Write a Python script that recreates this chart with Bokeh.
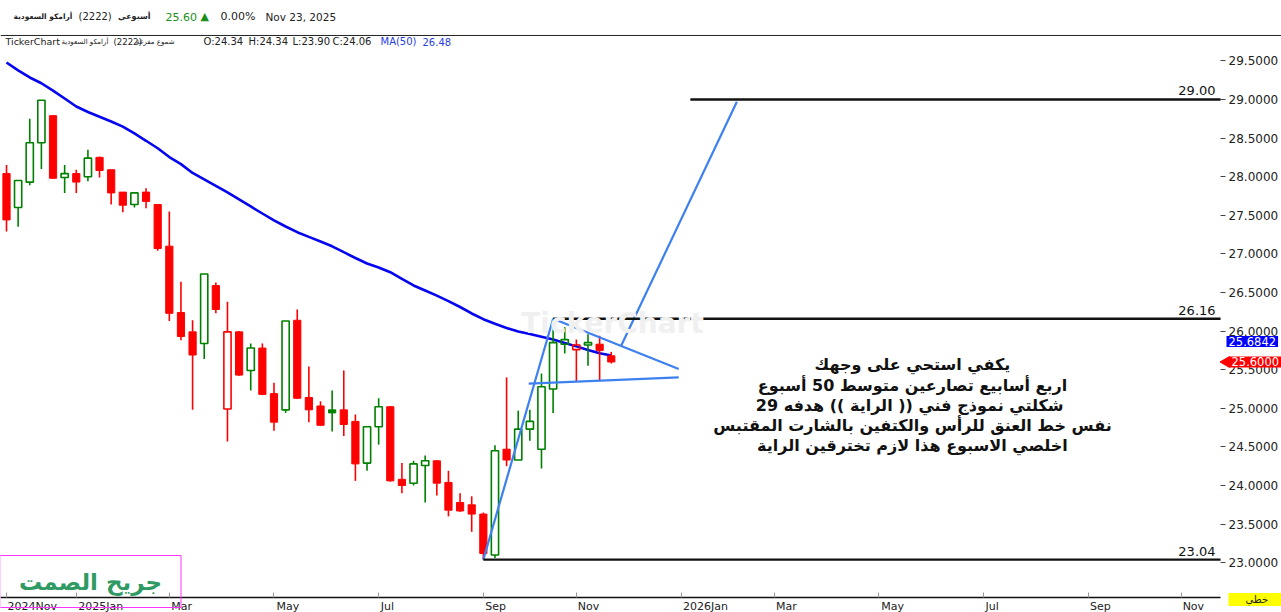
import numpy as np
import pandas as pd
from bokeh.plotting import figure
from bokeh.models import (ColumnDataSource, FixedTicker, Label, LinearAxis,
                          PrintfTickFormatter, Span)
from bokeh.core.properties import value
from bokeh.embed import file_html
from bokeh.resources import INLINE

# ---------------- data ----------------
WEEK0 = "2024-11-24"  # first weekly bar shown
OPEN = [28.04, 27.60, 27.93, 28.44, 28.79, 27.99, 28.04, 28.00, 28.25, 28.09,
        27.80, 27.64, 27.80, 27.64, 27.10, 26.24, 25.99, 25.84, 26.59, 24.99,
        25.99, 25.49, 25.78, 25.19, 24.98, 26.14, 25.14, 25.03, 24.98, 24.98,
        24.83, 24.29, 24.76, 25.02, 24.08, 24.03, 24.26, 24.32, 24.04, 23.78,
        23.75, 23.63, 23.10, 24.47, 24.33, 24.73, 24.47, 25.25, 25.83, 25.76,
        25.82, 25.83, 25.68]
HIGH = [28.15, 27.95, 28.75, 28.99, 28.80, 28.15, 28.09, 28.35, 28.26, 28.09,
        27.80, 27.79, 27.85, 27.64, 27.55, 26.64, 26.14, 26.74, 26.63, 26.38,
        26.00, 25.84, 25.84, 25.33, 26.13, 26.28, 25.54, 25.09, 25.23, 25.49,
        24.92, 24.76, 25.13, 25.03, 24.29, 24.32, 24.39, 24.33, 24.19, 23.90,
        23.86, 23.65, 24.52, 25.40, 24.97, 24.98, 25.45, 26.16, 26.05, 25.89,
        25.96, 25.94, 25.73]
LOW = [27.29, 27.35, 27.89, 28.10, 27.97, 27.79, 27.79, 27.94, 27.99, 27.64,
       27.54, 27.60, 27.59, 27.04, 26.13, 25.88, 24.98, 25.64, 26.23, 24.57,
       25.42, 25.23, 25.17, 24.71, 24.94, 25.12, 24.82, 24.77, 24.70, 24.64,
       24.06, 24.19, 24.53, 24.05, 23.90, 24.00, 23.78, 23.87, 23.60, 23.66,
       23.40, 23.04, 23.06, 24.25, 24.33, 24.58, 24.22, 24.94, 25.71, 25.35,
       25.55, 25.35, 25.58]
CLOSE = [27.44, 27.95, 28.44, 28.99, 27.98, 28.04, 27.93, 28.24, 28.08, 27.79,
         27.63, 27.79, 27.68, 27.07, 26.23, 25.93, 25.69, 26.74, 26.28, 25.99,
         25.43, 25.78, 25.18, 24.82, 26.13, 25.13, 24.98, 24.78, 24.94, 24.79,
         24.28, 24.76, 25.02, 24.06, 24.00, 24.28, 24.32, 24.03, 23.68, 23.67,
         23.63, 23.12, 24.45, 24.33, 24.73, 24.83, 25.28, 25.85, 25.89, 25.82,
         25.85, 25.75, 25.60]
MA50 = [29.479, 29.376, 29.285, 29.210, 29.114, 29.013, 28.909, 28.838, 28.776, 28.715,
        28.648, 28.560, 28.465, 28.368, 28.254, 28.163, 28.048, 27.964, 27.881, 27.797,
        27.705, 27.614, 27.523, 27.433, 27.355, 27.281, 27.220, 27.161, 27.098, 27.022,
        26.947, 26.876, 26.824, 26.763, 26.677, 26.591, 26.526, 26.459, 26.389, 26.312,
        26.228, 26.154, 26.095, 26.040, 25.995, 25.961, 25.927, 25.891, 25.846, 25.802,
        25.756, 25.712, 25.6842]

TICK_DATES = ["2024-11-24", "2025-01-05", "2025-03-02", "2025-05-04", "2025-07-06",
              "2025-09-07", "2025-11-02", "2026-01-04", "2026-03-01", "2026-05-03",
              "2026-07-05", "2026-09-06", "2026-11-01"]
TICK_LABELS = ["2024Nov", "2025Jan", "Mar", "May", "Jul", "Sep", "Nov",
               "2026Jan", "Mar", "May", "Jul", "Sep", "Nov"]
Y_TICKS = [23.0, 23.5, 24.0, 24.5, 25.0, 25.5, 26.0, 26.5, 27.0, 27.5, 28.0, 28.5, 29.0, 29.5]

# user drawings (week index, price)
FLAG_POLE_X = [41, 47];        FLAG_POLE_Y = [23.04, 26.16]
FLAG_TOP_X = [47, 57.8];       FLAG_TOP_Y = [26.16, 25.51]
FLAG_BOTTOM_X = [44.9, 57.8];  FLAG_BOTTOM_Y = [25.32, 25.40]
TARGET_X = [52.85, 62.8];      TARGET_Y = [25.81, 28.97]
LEVEL_START = [58.8, 47, 41]
LEVEL_VALUE = [29.00, 26.16, 23.04]
LEVEL_TEXT = ["29.00", "26.16", "23.04"]

NOTE_LINES = ["يكفي استحي على وجهك",
              "اربع أسابيع تصارعين متوسط 50 أسبوع",
              "شكلتي نموذج فني (( الراية  )) هدفه 29",
              "نفس خط العنق للرأس والكتفين بالشارت المقتبس",
              "اخلصي الاسبوع هذا لازم تخترقين الراية"]

HOVER_OHLC = [24.34, 24.34, 23.90, 24.06]
HOVER_MA = 26.48
CHANGE_PCT = 0.00

# ---------------- figure (frame = whole canvas, axes pinned inside) ----------------
W, H = 1281, 612
X_START, X_END = -0.516, 109.63      # full canvas width in week units
Y_BOTTOM, Y_TOP = 22.355, 30.282     # full canvas height in price units
AXIS_X = 104.39                      # where the price axis sits
AXIS_Y = 22.549                      # where the time axis sits
HEADER_RULE = 29.829

p = figure(width=W, height=H, x_range=(X_START, X_END), y_range=(Y_BOTTOM, Y_TOP),
           x_axis_location=None, y_axis_location=None,
           toolbar_location=None, output_backend="svg",
           min_border=0, background_fill_color="white", border_fill_color="white")
p.outline_line_color = None
p.grid.visible = False

FONT = "DejaVu Sans"
GREEN = "#008000"
RED = "#ff0000"

# candles
o = np.array(OPEN); h = np.array(HIGH); l = np.array(LOW); c = np.array(CLOSE)
idx = np.arange(len(c))
prev = np.concatenate([[o[0]], c[:-1]])
up = c >= prev
up[0] = c[0] >= o[0]
col = np.where(up, GREEN, RED)
top = np.maximum(o, c); bot = np.minimum(o, c)
hollow = c > o

p.line(idx, MA50, line_color="#0505f0", line_width=2.6)

p.segment(x0=idx, y0=h, x1=idx, y1=top, line_color=list(col), line_width=1.6)
p.segment(x0=idx, y0=bot, x1=idx, y1=l, line_color=list(col), line_width=1.6)

src_solid = ColumnDataSource(dict(x=idx[~hollow], top=top[~hollow], bot=bot[~hollow], col=col[~hollow]))
src_hollow = ColumnDataSource(dict(x=idx[hollow], top=top[hollow], bot=bot[hollow], col=col[hollow]))
p.vbar(x="x", width=0.62, top="top", bottom="bot", fill_color="col", line_color="col",
       line_width=1, source=src_solid)
p.vbar(x="x", width=0.62, top="top", bottom="bot", fill_color=None, line_color="col",
       line_width=1.6, source=src_hollow)

# drawings
LINE_BLUE = "#3d80f0"
for xs, ys in [(FLAG_POLE_X, FLAG_POLE_Y), (FLAG_TOP_X, FLAG_TOP_Y),
               (FLAG_BOTTOM_X, FLAG_BOTTOM_Y), (TARGET_X, TARGET_Y)]:
    p.line(xs, ys, line_color=LINE_BLUE, line_width=2.2)

p.segment(x0=LEVEL_START, y0=LEVEL_VALUE, x1=[AXIS_X] * len(LEVEL_VALUE), y1=LEVEL_VALUE,
          line_color="#111111", line_width=2.4)
p.text(x=[AXIS_X] * len(LEVEL_VALUE), y=LEVEL_VALUE, text=LEVEL_TEXT, x_offset=-5, y_offset=-4,
       text_align="right", text_baseline="bottom", text_font_size="13px",
       text_font=value(FONT), text_color="#111111")

# note
p.add_layout(Label(x=77.9, y=25.04, text="\n".join(NOTE_LINES), text_align="center",
                   text_baseline="middle", text_font=FONT, text_font_style="bold",
                   text_font_size="16px", text_line_height=1.06, text_color="#111111"))

# watermark
p.add_layout(Label(x=612, y=H - 323, x_units="screen", y_units="screen", text="TickerChart",
                   text_align="center", text_baseline="middle", text_font=FONT,
                   text_font_style="bold", text_font_size="28px", text_color="#f0f0f0"))

# top rule under the header
p.add_layout(Span(location=HEADER_RULE, dimension="width", line_color="#222222", line_width=1))

# axes pinned inside the canvas
xaxis = LinearAxis(fixed_location=AXIS_Y)
p.add_layout(xaxis, "below")
yaxis = LinearAxis(fixed_location=AXIS_X)
p.add_layout(yaxis, "right")

# DejaVu Sans advance widths (em) for left-aligning the centred month labels
CW = {"0": .636, "1": .636, "2": .636, "3": .636, "4": .636, "5": .636, "6": .636,
      "7": .636, "8": .636, "9": .636, "J": .295, "a": .613, "n": .634, "M": .863,
      "r": .411, "y": .592, "u": .634, "l": .278, "S": .635, "e": .615, "p": .635,
      "N": .748, "o": .612, "v": .592}
XFS = 11
def left_pad(t, first=False):
    if first:
        return "\u00a0\u00a0" + t
    w = sum(CW.get(ch, .6) for ch in t) * XFS
    n = int(round((w + 4) / (0.318 * XFS)))
    return "\u00a0" * n + t

week_pos = [int((pd.Timestamp(d) - pd.Timestamp(WEEK0)).days // 7) for d in TICK_DATES]
xaxis.ticker = FixedTicker(ticks=week_pos)
xaxis.major_label_overrides = {k: left_pad(t, i == 0)
                               for i, (k, t) in enumerate(zip(week_pos, TICK_LABELS))}
xaxis.bounds = (X_START, AXIS_X)
xaxis.major_label_text_font = FONT
xaxis.major_label_text_font_size = f"{XFS}px"
xaxis.major_label_text_color = "#222222"
xaxis.major_label_standoff = 2
xaxis.major_tick_in = 5
xaxis.major_tick_out = 0
xaxis.major_tick_line_color = "#999999"
xaxis.minor_tick_line_color = None
xaxis.axis_line_color = "#111111"
xaxis.axis_line_width = 1.5

yaxis.ticker = FixedTicker(ticks=Y_TICKS)
yaxis.formatter = PrintfTickFormatter(format="%.4f")
yaxis.axis_line_color = None
yaxis.major_tick_in = 0
yaxis.major_tick_out = 5
yaxis.major_tick_line_color = "#444444"
yaxis.minor_tick_line_color = None
yaxis.major_label_standoff = 3
yaxis.major_label_text_font = FONT
yaxis.major_label_text_font_size = "12px"
yaxis.major_label_text_color = "#222222"

# price markers on the axis
p.add_layout(Label(x=1226, y=MA50[-1], x_units="screen", text=f"{MA50[-1]:.4f}", y_offset=14,
                   text_align="left", text_baseline="middle", text_font=FONT, text_font_size="11.5px",
                   text_color="white", background_fill_color="#0000ff", padding=(2, 1)))
p.add_layout(Label(x=1229, y=CLOSE[-1], x_units="screen", text=f"{CLOSE[-1]:.4f}",
                   text_align="left", text_baseline="middle", text_font=FONT, text_font_size="11.5px",
                   text_color="white", background_fill_color="#ff0000", padding=(2, 1)))
p.scatter(x=[AXIS_X + 0.5], y=[CLOSE[-1]], marker="triangle", angle=np.pi / 2, size=11,
          fill_color="#ff0000", line_color="#ff0000")

# bottom widgets
p.add_layout(Label(x=1228, y=H - 599, x_units="screen", y_units="screen", text="خطي",
                   text_align="left", text_baseline="middle", text_font=FONT, text_font_size="10px",
                   text_color="#222222", background_fill_color="#ffff00", padding=(17, 1)))
p.add_layout(Label(x=90, y=H - 581, x_units="screen", y_units="screen", text="جريح الصمت",
                   text_align="center", text_baseline="middle", text_font=FONT,
                   text_font_style="bold", text_font_size="23px", text_color="#2f9a63",
                   border_line_color="#ff33ff", border_line_width=1, padding=(19, 13)))

# header
def hdr(x, y, text, color="#222222", size="10px", style="normal", align="left"):
    p.add_layout(Label(x=x, y=y, x_units="screen", y_units="screen", text=text,
                       text_align=align, text_baseline="middle", text_font=FONT,
                       text_font_size=size, text_font_style=style, text_color=color))

R1 = H - 16
hdr(13, R1, "أرامكو السعودية", style="bold", size="7.5px")
hdr(78, R1, "(2222)")
hdr(150, R1, "أسبوعي", style="bold", size="8px", align="right")
hdr(165, R1, f"{CLOSE[-1]:.2f}", color="#1a8f1a", size="11px")
hdr(200, R1, "▲", color="#1a8f1a", size="11px")
hdr(220, R1, f"{CHANGE_PCT:.2f}%", size="11px")
hdr(265, R1, "Nov 23, 2025", size="10.5px")

R2 = H - 41
hdr(5, R2, "TickerChart", size="9.5px")
hdr(61, R2, "أرامكو السعودية", size="7px")
hdr(113, R2, "(2222)", size="8.5px")
hdr(174, R2, "شموع مفرغة", size="7px", align="right")
for xx, lab, v in zip([203, 248, 292, 332], ["O", "H", "L", "C"], HOVER_OHLC):
    hdr(xx, R2, f"{lab}:{v:.2f}", size="10px")
hdr(380, R2, "MA(50)", color="#2a3ee0", size="10px")
hdr(422, R2, f"{HOVER_MA:.2f}", color="#2a3ee0", size="10px")

open("out.html", "w").write(file_html(p, INLINE))
